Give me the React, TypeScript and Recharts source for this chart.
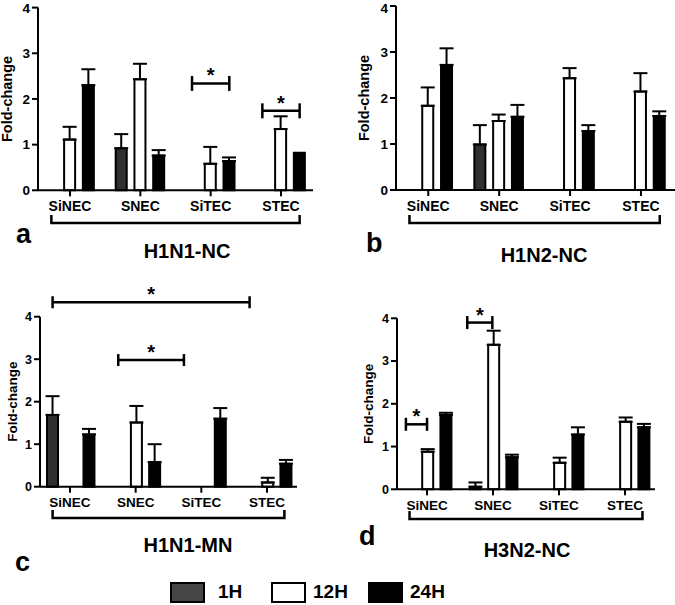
import React from 'react';
import { BarChart, Bar, XAxis, YAxis, ErrorBar, ReferenceLine } from 'recharts';

const categories = ['SiNEC', 'SNEC', 'SiTEC', 'STEC'];
const xTicks = [0, 1, 2, 3];
const yTicks = [0, 1, 2, 3, 4];

// (a) H1N1-NC
const aMean1H = [0, 0.92, 0, 0];
const aMean12H = [1.11, 2.43, 0.58, 1.34];
const aMean24H = [2.3, 0.76, 0.64, 0.82];
const aErr1H = [null, 0.31, null, null];
const aErr12H = [0.28, 0.34, 0.37, 0.28];
const aErr24H = [0.35, 0.12, 0.08, null];

// (b) H1N2-NC
const bMean1H = [0, 0.99, 0, 0];
const bMean12H = [1.83, 1.5, 2.43, 2.14];
const bMean24H = [2.72, 1.59, 1.28, 1.61];
const bErr1H = [null, 0.42, null, null];
const bErr12H = [0.4, 0.14, 0.22, 0.4];
const bErr24H = [0.36, 0.26, 0.13, 0.1];

// (c) H1N1-MN
const cMean1H = [1.69, 0, 0, 0];
const cMean12H = [0, 1.51, 0, 0.1];
const cMean24H = [1.23, 0.58, 1.6, 0.54];
const cErr1H = [0.44, 0.07, null, null];
const cErr12H = [0.09, 0.39, null, 0.11];
const cErr24H = [0.13, 0.42, 0.25, 0.09];

// (d) H3N2-NC
const dMean1H = [0, 0.06, 0, 0];
const dMean12H = [0.88, 3.38, 0.62, 1.58];
const dMean24H = [1.74, 0.75, 1.28, 1.45];
const dErr1H = [null, 0.1, null, null];
const dErr12H = [0.06, 0.33, 0.12, 0.1];
const dErr24H = [0.05, 0.06, 0.17, 0.08];

// bar pitch inside a group, in category units
const P = 0.265;

// significance brackets (x in category units, y in fold-change)
const aSig = [
  { from: 2 - P, to: 2 + P, y: 2.34 },
  { from: 3 - P, to: 3 + P, y: 1.74 },
];
const bSig: { from: number; to: number; y: number }[] = [];
const cSig = [
  { from: -P, to: 3 - P, y: 4.34 },
  { from: 1 - P, to: 2 - P, y: 2.98 },
];
const dSig = [
  { from: -0.32, to: 0, y: 1.52 },
  { from: 0.61, to: 0.99, y: 3.9 },
];

const rows = (m1, m12, m24, e1, e12, e24) =>
  categories.map((name, i) => ({
    x: i,
    name,
    h1: m1[i],
    h12: m12[i],
    h24: m24[i],
    e1: e1[i],
    e12: e12[i],
    e24: e24[i],
  }));

const SigShape = (p: any) => {
  const { x1, y1, x2, half } = p;
  return (
    <g>
      <line x1={x1} y1={y1} x2={x2} y2={y1} stroke="#000" strokeWidth={2.5} />
      <line x1={x1} y1={y1 - half} x2={x1} y2={y1 + half} stroke="#000" strokeWidth={2.5} />
      <line x1={x2} y1={y1 - half} x2={x2} y2={y1 + half} stroke="#000" strokeWidth={2.5} />
      <text x={(x1 + x2) / 2} y={y1 - 1} textAnchor="middle" fontSize={20} fontWeight={700} fill="#000">
        *
      </text>
    </g>
  );
};

const GroupShape = (p: any) => {
  const { x1, y1, x2, off } = p;
  const y = y1 + off;
  return (
    <path
      d={`M${x1},${y - 8} L${x1},${y} L${x2},${y} L${x2},${y - 8}`}
      fill="none"
      stroke="#000"
      strokeWidth={2.5}
    />
  );
};

const errKey = (k: string) => (d: any) => (d[k] == null ? null : [0, d[k]]);

function Panel({ cfg }: { cfg: any }) {
  const xAxisH = 30;
  const margin = {
    top: cfg.plotTop - cfg.top,
    right: cfg.left + cfg.width - cfg.plotRight,
    left: 0,
    bottom: cfg.top + cfg.height - cfg.plotBottom - xAxisH,
  };
  const axisStyle = { stroke: '#000', strokeWidth: 2 };
  return (
    <div style={{ position: 'absolute', left: cfg.left, top: cfg.top, width: cfg.width, height: cfg.height }}>
      <BarChart width={cfg.width} height={cfg.height} data={cfg.data} margin={margin} barCategoryGap="15%" barGap="11%">
        <XAxis
          dataKey="x"
          type="number"
          domain={cfg.domain}
          ticks={xTicks}
          interval={0}
          allowDataOverflow
          tickFormatter={(v) => categories[v]}
          height={xAxisH}
          axisLine={axisStyle}
          tickLine={axisStyle}
          tickSize={6}
          tickMargin={5}
          tick={{ fill: '#000', fontSize: cfg.catFont, fontWeight: 700 }}
        />
        <YAxis
          type="number"
          domain={[0, 4]}
          ticks={yTicks}
          width={cfg.axisX - cfg.left}
          axisLine={axisStyle}
          tickLine={axisStyle}
          tickSize={6}
          tickMargin={2}
          tick={{ fill: '#000', fontSize: cfg.tickFont, fontWeight: 700 }}
          label={{
            value: 'Fold-change',
            angle: -90,
            position: 'insideLeft',
            offset: cfg.labelX,
            style: { textAnchor: 'middle', fontSize: cfg.labelFont, fontWeight: 700, fill: '#000' },
          }}
        />
        <Bar dataKey="h1" fill="#303030" stroke="#000" strokeWidth={2} isAnimationActive={false}>
          <ErrorBar dataKey={errKey('e1')} width={7} strokeWidth={2} stroke="#000" direction="y" />
        </Bar>
        <Bar dataKey="h12" fill="#fff" stroke="#000" strokeWidth={2} isAnimationActive={false}>
          <ErrorBar dataKey={errKey('e12')} width={7} strokeWidth={2} stroke="#000" direction="y" />
        </Bar>
        <Bar dataKey="h24" fill="#000" stroke="#000" strokeWidth={2} isAnimationActive={false}>
          <ErrorBar dataKey={errKey('e24')} width={7} strokeWidth={2} stroke="#000" direction="y" />
        </Bar>
        {cfg.sig.map((s, i) => (
          <ReferenceLine
            key={i}
            segment={[{ x: s.from, y: s.y }, { x: s.to, y: s.y }]}
            ifOverflow="visible"
            shape={(p) => <SigShape {...p} half={cfg.capHalf} />}
          />
        ))}
        <ReferenceLine
          segment={[{ x: -P, y: 0 }, { x: 3 + P, y: 0 }]}
          ifOverflow="visible"
          shape={(p) => <GroupShape {...p} off={cfg.groupOff} />}
        />
      </BarChart>
    </div>
  );
}

const panels = [
  {
    left: 0, top: 0, width: 340, height: 240, axisX: 38, plotTop: 7.6, plotBottom: 190.3, plotRight: 313,
    domain: [-0.455, 3.455], data: rows(aMean1H, aMean12H, aMean24H, aErr1H, aErr12H, aErr24H), sig: aSig,
    tickFont: 13.5, catFont: 14, labelFont: 14.5, labelX: 7, capHalf: 7.5, groupOff: 32.7,
  },
  {
    left: 340, top: 0, width: 335, height: 240, axisX: 396, plotTop: 6, plotBottom: 190, plotRight: 675,
    domain: [-0.455, 3.48], data: rows(bMean1H, bMean12H, bMean24H, bErr1H, bErr12H, bErr24H), sig: bSig,
    tickFont: 13.5, catFont: 14, labelFont: 14.5, labelX: 24, capHalf: 7.5, groupOff: 33,
  },
  {
    left: 0, top: 280, width: 340, height: 250, axisX: 40, plotTop: 316.7, plotBottom: 486.7, plotRight: 297,
    domain: [-0.457, 3.457], data: rows(cMean1H, cMean12H, cMean24H, cErr1H, cErr12H, cErr24H), sig: cSig,
    tickFont: 12.5, catFont: 13.5, labelFont: 13.5, labelX: 12, capHalf: 6, groupOff: 31.3,
  },
  {
    left: 340, top: 280, width: 335, height: 250, axisX: 397, plotTop: 318.3, plotBottom: 489.3, plotRight: 655,
    domain: [-0.455, 3.455], data: rows(dMean1H, dMean12H, dMean24H, dErr1H, dErr12H, dErr24H), sig: dSig,
    tickFont: 12.5, catFont: 13.5, labelFont: 13.5, labelX: 28, capHalf: 6.5, groupOff: 29.7,
  },
];

const titles = [
  { text: 'H1N1-NC', x: 187, y: 258 },
  { text: 'H1N2-NC', x: 544, y: 262 },
  { text: 'H1N1-MN', x: 188, y: 552 },
  { text: 'H3N2-NC', x: 527, y: 557 },
];
const letters = [
  { text: 'a', x: 16, y: 243 },
  { text: 'b', x: 366, y: 252 },
  { text: 'c', x: 15, y: 571 },
  { text: 'd', x: 359, y: 545 },
];
const legendItems = [
  { name: '1H', fill: '#454545', x: 171 },
  { name: '12H', fill: '#fff', x: 272 },
  { name: '24H', fill: '#000', x: 369 },
];

export default function App() {
  return (
    <div
      style={{
        position: 'absolute',
        left: 0,
        top: 0,
        width: 675,
        height: 605,
        background: '#fff',
        fontFamily: "'Liberation Sans', Arial, Helvetica, sans-serif",
        overflow: 'hidden',
      }}
    >
      <svg width={675} height={605} style={{ position: 'absolute', left: 0, top: 0 }}>
        {titles.map((t) => (
          <text key={t.text} x={t.x} y={t.y} textAnchor="middle" fontSize={20} fontWeight={700} fill="#000">
            {t.text}
          </text>
        ))}
        {letters.map((t) => (
          <text key={t.text} x={t.x} y={t.y} fontSize={27} fontWeight={700} fill="#000">
            {t.text}
          </text>
        ))}
        {legendItems.map((it) => (
          <g key={it.name}>
            <rect x={it.x} y={583} width={33} height={19} fill={it.fill} stroke="#000" strokeWidth={2} />
            <text x={it.x + (it.name === '1H' ? 47 : 41)} y={598} fontSize={19} fontWeight={700} fill="#000">
              {it.name}
            </text>
          </g>
        ))}
      </svg>
      {panels.map((cfg, i) => (
        <Panel key={i} cfg={cfg} />
      ))}
    </div>
  );
}
